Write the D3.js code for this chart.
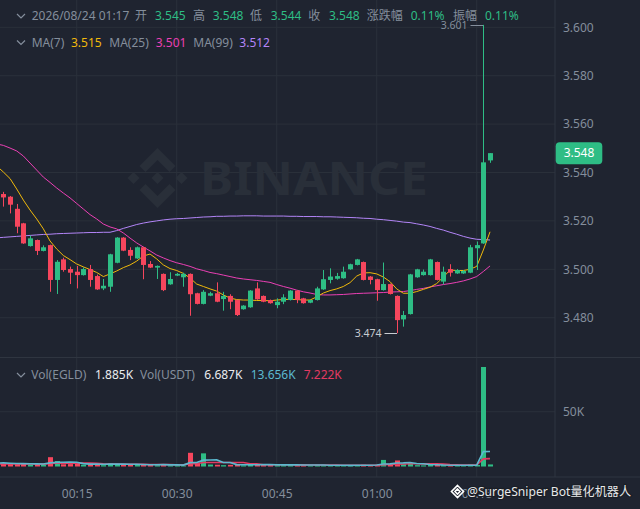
<!DOCTYPE html>
<html><head><meta charset="utf-8">
<script src="https://cdn.jsdelivr.net/npm/d3@7"></script>
<style>
html,body{margin:0;padding:0;background:#1f2430;overflow:hidden;}
svg{display:block;}
text{font-family:"Noto Sans","Noto Sans CJK SC",sans-serif;}
</style></head><body>
<svg id="c" width="640" height="509"></svg>
<script>
// ---------- DATA ----------
const times = [
 "00:03","00:04","00:05","00:06","00:07","00:08","00:09","00:10","00:11","00:12",
 "00:13","00:14","00:15","00:16","00:17","00:18","00:19","00:20","00:21","00:22",
 "00:23","00:24","00:25","00:26","00:27","00:28","00:29","00:30","00:31","00:32",
 "00:33","00:34","00:35","00:36","00:37","00:38","00:39","00:40","00:41","00:42",
 "00:43","00:44","00:45","00:46","00:47","00:48","00:49","00:50","00:51","00:52",
 "00:53","00:54","00:55","00:56","00:57","00:58","00:59","01:00","01:01","01:02",
 "01:03","01:04","01:05","01:06","01:07","01:08","01:09","01:10","01:11","01:12",
 "01:13","01:14","01:15","01:16","01:17"];
const open = [
 3.5330,3.5311,3.5300,3.5250,3.5190,3.5096,3.5121,3.5076,3.5100,3.4956,
 3.5041,3.5001,3.4990,3.4976,3.5001,3.4972,3.4921,3.4928,3.5027,3.5131,
 3.5080,3.5045,3.5091,3.5022,3.5007,3.4981,3.4938,3.4974,3.4967,3.4981,
 3.4901,3.4857,3.4891,3.4901,3.4877,3.4890,3.4873,3.4835,3.4843,3.4921,
 3.4890,3.4873,3.4852,3.4866,3.4873,3.4912,3.4880,3.4862,3.4873,3.4917,
 3.4956,3.4961,3.4963,3.5000,3.5018,3.5030,3.4970,3.4959,3.4914,3.4939,
 3.4890,3.4793,3.4815,3.4967,3.4976,3.4976,3.5030,3.4949,3.5001,3.4983,
 3.4983,3.4986,3.5087,3.5107,3.5450];
const high = [
 3.5345,3.5320,3.5303,3.5270,3.5192,3.5139,3.5123,3.5099,3.5102,3.5038,
 3.5048,3.5011,3.5014,3.5008,3.5018,3.4978,3.4960,3.5064,3.5133,3.5133,
 3.5091,3.5094,3.5093,3.5034,3.5016,3.4983,3.4988,3.4985,3.4986,3.4983,
 3.4903,3.4914,3.4907,3.4946,3.4907,3.4897,3.4875,3.4852,3.4914,3.4946,
 3.4892,3.4875,3.4880,3.4897,3.4914,3.4914,3.4882,3.4875,3.4928,3.4997,
 3.5004,3.4985,3.5011,3.5023,3.5043,3.5032,3.4972,3.4961,3.5028,3.4941,
 3.4892,3.4828,3.4981,3.5002,3.4999,3.5043,3.5032,3.5011,3.5021,3.5001,
 3.4997,3.5101,3.5115,3.6010,3.5480];
const low = [
 3.5300,3.5259,3.5231,3.5149,3.5105,3.5094,3.5059,3.5074,3.4907,3.4898,
 3.4990,3.4939,3.4921,3.4974,3.4928,3.4915,3.4914,3.4907,3.5025,3.5075,
 3.5038,3.5043,3.4959,3.5005,3.4960,3.4910,3.4936,3.4972,3.4928,3.4808,
 3.4855,3.4855,3.4889,3.4864,3.4829,3.4835,3.4807,3.4833,3.4841,3.4874,
 3.4864,3.4858,3.4839,3.4856,3.4871,3.4860,3.4858,3.4860,3.4871,3.4915,
 3.4942,3.4957,3.4961,3.4998,3.5016,3.4954,3.4938,3.4870,3.4912,3.4896,
 3.4736,3.4763,3.4813,3.4965,3.4974,3.4974,3.4954,3.4938,3.4970,3.4981,
 3.4981,3.4984,3.4997,3.5105,3.5440];
const close = [
 3.5315,3.5297,3.5267,3.5176,3.5107,3.5128,3.5076,3.5091,3.4956,3.5031,
 3.4997,3.4986,3.4976,3.5001,3.4956,3.4917,3.4932,3.5062,3.5131,3.5077,
 3.5056,3.5091,3.5018,3.5007,3.5014,3.4914,3.4960,3.4981,3.4981,3.4897,
 3.4857,3.4907,3.4901,3.4866,3.4890,3.4866,3.4811,3.4850,3.4912,3.4876,
 3.4866,3.4860,3.4866,3.4884,3.4912,3.4873,3.4860,3.4873,3.4921,3.4959,
 3.4970,3.4972,3.4990,3.5021,3.5041,3.4956,3.4956,3.4914,3.4939,3.4898,
 3.4790,3.4811,3.4979,3.5000,3.4990,3.5041,3.4956,3.4990,3.4986,3.4997,
 3.4993,3.5091,3.5100,3.5442,3.5480];
const ma7 = [
 3.5427,3.5402,3.5375,3.5332,3.5286,3.5245,3.5208,3.5167,3.5117,3.5084,
 3.5057,3.5040,3.5022,3.5010,3.4999,3.4987,3.4970,3.4981,3.4993,3.5007,
 3.5018,3.5034,3.5055,3.5063,3.5043,3.5018,3.5003,3.4995,3.4983,3.4964,
 3.4939,3.4929,3.4919,3.4910,3.4894,3.4881,3.4875,3.4873,3.4873,3.4871,
 3.4871,3.4870,3.4873,3.4875,3.4876,3.4875,3.4873,3.4873,3.4886,3.4902,
 3.4912,3.4919,3.4929,3.4945,3.4972,3.4985,3.4986,3.4981,3.4968,3.4949,
 3.4919,3.4901,3.4901,3.4908,3.4917,3.4926,3.4941,3.4968,3.4997,3.4995,
 3.4995,3.5000,3.5012,3.5080,3.5155];
const ma25 = [
 3.5518,3.5512,3.5501,3.5489,3.5468,3.5439,3.5410,3.5381,3.5359,3.5336,
 3.5315,3.5295,3.5272,3.5249,3.5226,3.5208,3.5187,3.5175,3.5167,3.5150,
 3.5129,3.5109,3.5092,3.5076,3.5059,3.5047,3.5036,3.5027,3.5020,3.5012,
 3.5002,3.4995,3.4987,3.4982,3.4976,3.4970,3.4964,3.4960,3.4957,3.4954,
 3.4950,3.4946,3.4937,3.4929,3.4922,3.4914,3.4907,3.4902,3.4896,3.4894,
 3.4894,3.4895,3.4896,3.4898,3.4900,3.4901,3.4902,3.4903,3.4904,3.4906,
 3.4907,3.4908,3.4912,3.4917,3.4921,3.4927,3.4932,3.4937,3.4941,3.4946,
 3.4952,3.4960,3.4970,3.4991,3.5014];
const ma99 = [
 3.5130,3.5132,3.5134,3.5136,3.5138,3.5140,3.5142,3.5144,3.5145,3.5147,
 3.5148,3.5149,3.5150,3.5151,3.5152,3.5152,3.5153,3.5153,3.5160,3.5169,
 3.5177,3.5185,3.5191,3.5196,3.5200,3.5204,3.5207,3.5209,3.5210,3.5212,
 3.5214,3.5216,3.5217,3.5219,3.5219,3.5220,3.5220,3.5221,3.5221,3.5221,
 3.5220,3.5220,3.5220,3.5220,3.5219,3.5219,3.5218,3.5218,3.5218,3.5217,
 3.5217,3.5216,3.5215,3.5214,3.5213,3.5211,3.5210,3.5207,3.5205,3.5202,
 3.5199,3.5195,3.5193,3.5188,3.5183,3.5177,3.5169,3.5162,3.5153,3.5145,
 3.5136,3.5129,3.5124,3.5123,3.5121];
const volume = [ // thousands
 2.5,2.4,2.6,2.2,2.8,1.8,2.0,1.5,8.5,5.0,
 2.0,2.2,2.8,1.6,2.0,2.6,1.2,3.0,2.0,1.8,
 1.5,1.4,2.0,1.5,1.2,2.2,1.0,1.2,0.8,12.5,
 2.5,12.0,1.8,1.6,1.2,1.5,2.2,1.0,1.4,2.0,
 1.6,1.8,1.5,1.2,1.5,1.8,1.4,1.0,1.4,1.2,
 1.0,0.8,1.2,1.0,1.3,1.6,1.0,1.5,6.0,1.8,
 5.5,2.0,3.0,1.2,1.0,1.5,1.4,1.2,0.9,0.8,
 0.9,1.8,1.4,90.8,1.885];
const volMA5 = [
 3.2,3.3,3.0,2.8,2.6,2.5,2.4,2.3,3.3,3.8,
 3.9,4.0,3.9,2.6,2.2,2.2,2.0,2.2,2.3,2.2,
 2.0,2.0,1.8,1.6,1.6,1.7,1.5,1.6,1.3,3.5,
 3.6,5.8,5.9,6.0,3.7,3.6,1.7,1.6,1.6,1.6,
 1.7,1.7,1.6,1.5,1.5,1.5,1.4,1.4,1.4,1.3,
 1.2,1.1,1.1,1.0,1.1,1.2,1.2,1.3,2.3,2.4,
 3.2,3.3,3.7,2.7,2.5,1.8,1.6,1.3,1.2,1.2,
 1.2,1.2,1.2,13.6,13.656];
const volMA10 = [
 2.2,2.3,2.4,2.4,2.4,2.3,2.3,2.2,2.8,3.0,
 3.0,3.0,3.1,3.1,3.1,3.0,2.4,2.3,2.2,2.1,
 2.0,2.0,1.9,1.8,1.8,1.8,1.7,1.6,1.5,2.5,
 2.6,3.6,3.6,3.7,3.7,3.7,3.6,3.6,2.5,2.4,
 1.6,1.6,1.6,1.6,1.6,1.5,1.5,1.4,1.4,1.3,
 1.3,1.3,1.2,1.2,1.1,1.2,1.2,1.2,1.7,1.8,
 2.2,2.3,2.5,2.5,2.4,2.4,2.4,2.2,1.7,1.6,
 1.4,1.3,1.4,7.0,7.222];
const priceTicks = [3.48,3.50,3.52,3.54,3.56,3.58,3.60];
const timeTicks = ["00:15","00:30","00:45","01:00","01:15"];
const volTicks = [50];
const headerDate = "2026/08/24 01:17";
const changePct = "0.11%";
const amplitudePct = "0.11%";
const volHeader = {egld:"1.885K", usdt:"6.687K", ma5:"13.656K", ma10:"7.222K"};

// ---------- STYLE ----------
const C = {bg:"#1f2430", grid:"#2a303a", line:"#2f3540", txt:"#848e9c",
  up:"#2ebd85", down:"#f6465d", ma7:"#f0b90b", ma25:"#eb40b5", ma99:"#b385f8",
  vma5:"#5cb9cf", vma10:"#e23a62", white:"#eaecef", wm:"#292f39"};

const toMin = s => { const [h,m] = s.split(":"); return +h*60 + +m; };
const data = times.map((t,i)=>({t:toMin(t), o:open[i], h:high[i], l:low[i], c:close[i],
  m7:ma7[i], m25:ma25[i], m99:ma99[i], v:volume[i], v5:volMA5[i], v10:volMA10[i]}));

const W = 640, H = 509, AX = 555, PANE1 = 357.5, PANE2B = 477;
const x = d3.scaleLinear().domain([15,75]).range([76.7,476.7]);
const y = d3.scaleLinear().domain([3.48,3.60]).range([317.7,27.3]);
const yv = d3.scaleLinear().domain([0,50]).range([466.5,411.7]);
const xc = t => Math.round(x(t)) + 0.5;   // crisp candle centre

const svg = d3.select("#c");
svg.append("rect").attr("width",W).attr("height",H).attr("fill",C.bg);
const defs = svg.append("defs");
defs.append("clipPath").attr("id","cp1").append("rect").attr("x",0).attr("y",0).attr("width",AX).attr("height",PANE1);
defs.append("clipPath").attr("id","cp2").append("rect").attr("x",0).attr("y",PANE1+1).attr("width",AX).attr("height",PANE2B-PANE1-1);

// grid
const g = svg.append("g");
g.selectAll(".vg").data(timeTicks).join("line")
  .attr("x1",d=>x(toMin(d))).attr("x2",d=>x(toMin(d))).attr("y1",0).attr("y2",PANE2B)
  .attr("stroke",C.grid).attr("stroke-width",1);
g.selectAll(".hg").data(priceTicks).join("line")
  .attr("x1",0).attr("x2",AX).attr("y1",d=>y(d)).attr("y2",d=>y(d))
  .attr("stroke",C.grid);
g.selectAll(".vgv").data(volTicks).join("line")
  .attr("x1",0).attr("x2",AX).attr("y1",d=>yv(d)).attr("y2",d=>yv(d))
  .attr("stroke",C.grid);
// separators
svg.append("line").attr("x1",0).attr("x2",W).attr("y1",PANE1).attr("y2",PANE1).attr("stroke",C.line);
svg.append("line").attr("x1",0).attr("x2",W).attr("y1",PANE2B).attr("y2",PANE2B).attr("stroke",C.line);
svg.append("line").attr("x1",AX).attr("x2",AX).attr("y1",0).attr("y2",PANE2B).attr("stroke",C.line);

// watermark BINANCE
const wm = svg.append("g").attr("fill",C.wm);
const cx = 157.5, cy = 178;
const dia = (px,py,r)=>`M${px},${py-r}L${px+r},${py}L${px},${py+r}L${px-r},${py}Z`;
wm.append("path").attr("d", dia(cx,cy,6)+dia(cx-24,cy,6)+dia(cx+24,cy,6)
  + `M${cx},${cy-30}L${cx+18},${cy-12}L${cx+12},${cy-6}L${cx},${cy-18}L${cx-12},${cy-6}L${cx-18},${cy-12}Z`
  + `M${cx},${cy+30}L${cx+18},${cy+12}L${cx+12},${cy+6}L${cx},${cy+18}L${cx-12},${cy+6}L${cx-18},${cy+12}Z`);
wm.append("text").attr("x",200).attr("y",195).attr("font-size",46).attr("font-weight","bold")
  .attr("textLength",228).attr("lengthAdjust","spacingAndGlyphs").text("BINANCE");

// price pane
const p1 = svg.append("g").attr("clip-path","url(#cp1)");
const lineG = (key)=>d3.line().x(d=>x(d.t)).y(d=>y(d[key]));
[["m99",C.ma99],["m25",C.ma25],["m7",C.ma7]].forEach(([k,col])=>{
  p1.append("path").datum(data).attr("d",lineG(k)).attr("fill","none").attr("stroke",col).attr("stroke-width",1);
});
const cg = p1.selectAll(".cd").data(data).join("g");
cg.append("line").attr("x1",d=>xc(d.t)).attr("x2",d=>xc(d.t))
  .attr("y1",d=>y(d.h)).attr("y2",d=>y(d.l))
  .attr("stroke",d=>d.c>=d.o?C.up:C.down).attr("stroke-width",1);
cg.append("rect").attr("x",d=>xc(d.t)-2.5).attr("width",5)
  .attr("y",d=>y(Math.max(d.o,d.c)))
  .attr("height",d=>Math.max(1,Math.abs(y(d.o)-y(d.c))))
  .attr("fill",d=>d.c>=d.o?C.up:C.down);

// high / low markers
const hi = data.reduce((a,b)=>b.h>a.h?b:a), lo = data.filter(d=>d.t>=4).reduce((a,b)=>b.l<a.l?b:a);
[[hi,"h"],[lo,"l"]].forEach(([d,k])=>{
  const yy = Math.round(y(d[k])) + 0.5;
  svg.append("line").attr("x1",xc(d.t)-13).attr("x2",xc(d.t)-0.5).attr("y1",yy).attr("y2",yy)
    .attr("stroke",k==="h"?"#848e9c":"#c8ccd2").attr("stroke-width",1);
  svg.append("text").attr("x",xc(d.t)-16).attr("y",yy).attr("dy","0.35em").attr("text-anchor","end")
    .attr("font-size",10.5).attr("fill",k==="h"?"#848e9c":"#c8ccd2").text(d3.format(".3f")(d[k]));
});

// volume pane
const p2 = svg.append("g").attr("clip-path","url(#cp2)");
p2.selectAll(".vb").data(data).join("rect")
  .attr("x",d=>xc(d.t)-2.5).attr("width",5)
  .attr("y",d=>yv(d.v)).attr("height",d=>yv(0)-yv(d.v))
  .attr("fill",d=>d.c>=d.o?C.up:C.down);
const lineV = (key)=>d3.line().x(d=>x(d.t)).y(d=>yv(d[key]));
[["v10",C.vma10],["v5",C.vma5]].forEach(([k,col])=>{
  p2.append("path").datum(data).attr("d",lineV(k)).attr("fill","none").attr("stroke",col).attr("stroke-width",1.6);
});

// axes
const fmt3 = d3.format(".3f");
const ay = svg.append("g").attr("transform",`translate(${AX},0)`)
  .call(d3.axisRight(y).tickValues(priceTicks).tickSize(0).tickPadding(8).tickFormat(fmt3));
const ayv = svg.append("g").attr("transform",`translate(${AX},0)`)
  .call(d3.axisRight(yv).tickValues(volTicks).tickSize(0).tickPadding(8).tickFormat(d=>d+"K"));
const ax = svg.append("g").attr("transform",`translate(0,${PANE2B})`)
  .call(d3.axisBottom(x).tickValues(timeTicks.map(toMin)).tickSize(0).tickPadding(12)
    .tickFormat(m=>timeTicks.find(s=>toMin(s)===m)));
[ay,ayv,ax].forEach(a=>{
  a.select(".domain").remove();
  a.selectAll("text").attr("fill",C.txt).attr("font-size",12)
   .style("font-family",'"Noto Sans","Noto Sans CJK SC",sans-serif');
});

// last price tag
const last = data[data.length-1];
svg.append("rect").attr("x",555.7).attr("y",y(last.c)-11).attr("width",46.6).attr("height",22)
  .attr("rx",4).attr("fill",C.up);
svg.append("text").attr("x",579).attr("y",y(last.c)).attr("dy","0.35em").attr("text-anchor","middle")
  .attr("font-size",12).attr("fill","#ffffff").text(fmt3(last.c));

// header text
const chevron = (yy)=>svg.append("path").attr("d",`M17,${yy-2}L21,${yy+2}L25,${yy-2}`)
  .attr("fill","none").attr("stroke",C.txt).attr("stroke-width",1.2);
const txt = (xx,yy,s,col)=>svg.append("text").attr("x",xx).attr("y",yy).attr("dy","0.35em")
  .attr("font-size",12).attr("fill",col).text(s);
chevron(16);
const row1 = [[31.7,headerDate,C.txt],[135,"开",C.txt],[155,fmt3(last.o),C.up],[193,"高",C.txt],
  [212.7,fmt3(last.h),C.up],[250,"低",C.txt],[270.7,fmt3(last.l),C.up],[308.3,"收",C.txt],
  [329,fmt3(last.c),C.up],[366.7,"涨跌幅",C.txt],[410.7,changePct,C.up],[453,"振幅",C.txt],[485,amplitudePct,C.up]];
row1.forEach(r=>txt(r[0],16,r[1],r[2]));
chevron(42.5);
const row2 = [[31.7,"MA(7)",C.txt],[71,fmt3(last.m7),C.ma7],[109.3,"MA(25)",C.txt],[155.7,fmt3(last.m25),C.ma25],
  [193.3,"MA(99)",C.txt],[239.3,fmt3(last.m99),C.ma99]];
row2.forEach(r=>txt(r[0],42.5,r[1],r[2]));
chevron(375);
const row3 = [[31.3,"Vol(EGLD)",C.txt],[95,volHeader.egld,C.white],[140,"Vol(USDT)",C.txt],
  [204.3,volHeader.usdt,C.white],[250.7,volHeader.ma5,C.vma5],[303.7,volHeader.ma10,C.vma10]];
row3.forEach(r=>txt(r[0],375,r[1],r[2]));

// bottom-right signature
const sig = svg.append("g");
const ic = sig.append("g").attr("transform","translate(457.5,491.5)");
ic.append("path").attr("d","M0,-6L6,0L0,6L-6,0Z M0,-2.5L2.5,0L0,2.5L-2.5,0Z")
  .attr("fill","none").attr("stroke","#ffffff").attr("stroke-width",1.6);
sig.append("text").attr("x",467).attr("y",491.5).attr("dy","0.35em").attr("font-size",12.5)
  .attr("fill","#e6e8ea").attr("stroke","#1a1e26").attr("stroke-width",2.5).attr("paint-order","stroke")
  .attr("textLength",164).attr("lengthAdjust","spacingAndGlyphs")
  .text("@SurgeSniper Bot量化机器人");
</script>
</body></html>
